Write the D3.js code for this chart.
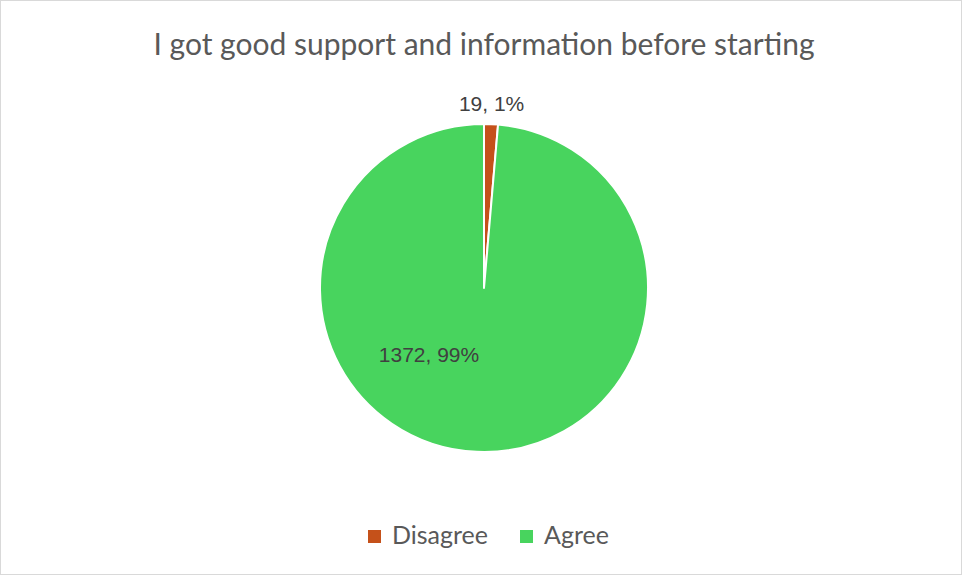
<!DOCTYPE html>
<html>
<head>
<meta charset="utf-8">
<script src="https://cdn.jsdelivr.net/npm/d3@7"></script>
<style>
  body { margin: 0; background: #fff; }
</style>
</head>
<body>
<div id="chart"></div>
<script>
const categories = ["Disagree", "Agree"];
const counts = [19, 1372];
const percentLabels = ["1%", "99%"];
const colors = ["#C5511A", "#48D45E"];
const title = "I got good support and information before starting";

const width = 964;
const height = 577;
const cx = 484;
const cy = 288;
const radius = 164;

const svg = d3.select("#chart")
  .append("svg")
  .attr("width", width)
  .attr("height", height);

svg.append("rect")
  .attr("x", 0.5)
  .attr("y", 0.5)
  .attr("width", width - 3)
  .attr("height", height - 3)
  .attr("fill", "#fff")
  .attr("stroke", "#D9D9D9");

svg.append("text")
  .attr("x", cx)
  .attr("y", 55)
  .attr("text-anchor", "middle")
  .attr("font-family", "Lato, 'Open Sans', sans-serif")
  .attr("font-size", 30)
  .attr("fill", "#595959")
  .text(title);

const pie = d3.pie().sort(null).value(d => d);
const arcs = pie(counts);
const arc = d3.arc().innerRadius(0).outerRadius(radius);

const g = svg.append("g").attr("transform", `translate(${cx},${cy})`);

g.selectAll("path")
  .data(arcs)
  .enter()
  .append("path")
  .attr("d", arc)
  .attr("fill", (d, i) => colors[i])
  .attr("stroke", "#fff")
  .attr("stroke-width", 2)
  .attr("stroke-linejoin", "round");

// data labels: small slice outside, large slice inside
const outerArc = d3.arc().innerRadius(radius + 13).outerRadius(radius + 13);
const labelOffsets = [
  d => { const c = outerArc.centroid(d); return [c[0], c[1]]; },
  d => [-55, 74]
];

g.selectAll("text.label")
  .data(arcs)
  .enter()
  .append("text")
  .attr("class", "label")
  .attr("x", (d, i) => labelOffsets[i](d)[0])
  .attr("y", (d, i) => labelOffsets[i](d)[1])
  .attr("text-anchor", "middle")
  .attr("font-family", "'Liberation Sans', Arial, sans-serif")
  .attr("font-size", 21)
  .attr("fill", "#404040")
  .text((d, i) => `${counts[i]}, ${percentLabels[i]}`);

// legend
const legend = svg.append("g").attr("transform", "translate(368, 544)");
const legendX = [0, 152];
const items = legend.selectAll("g")
  .data(categories)
  .enter()
  .append("g")
  .attr("transform", (d, i) => `translate(${legendX[i]},0)`);

items.append("rect")
  .attr("x", 0)
  .attr("y", -14)
  .attr("width", 13)
  .attr("height", 13)
  .attr("fill", (d, i) => colors[i]);

items.append("text")
  .attr("x", 24)
  .attr("y", 0)
  .attr("font-family", "Lato, 'Open Sans', sans-serif")
  .attr("font-size", 25)
  .attr("fill", "#595959")
  .text(d => d);
</script>
</body>
</html>
